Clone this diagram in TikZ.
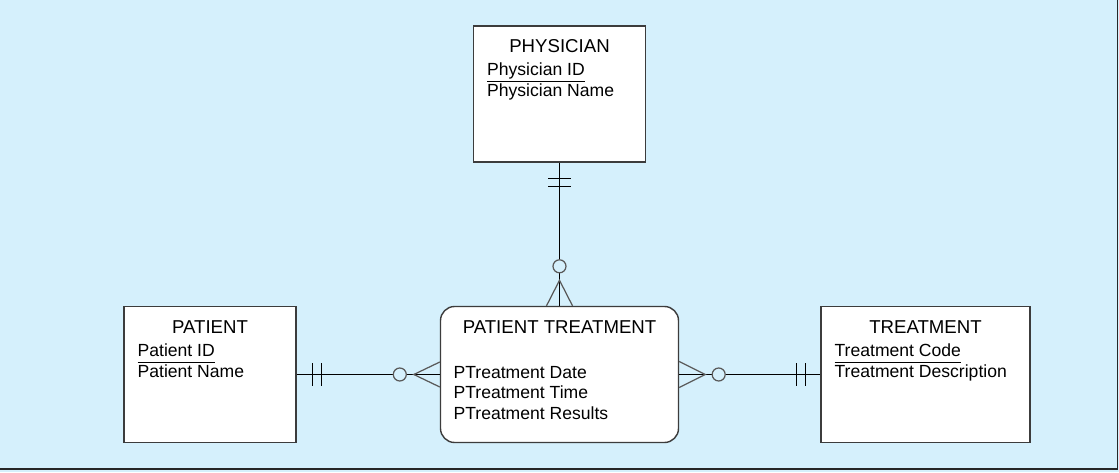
\documentclass[tikz,border=0pt]{standalone}
\usepackage{fontspec}
\setmainfont{Liberation Sans}
\definecolor{bgblue}{RGB}{213,240,252}
\definecolor{edgegray}{RGB}{60,60,60}
\newcommand{\titlefont}{\fontsize{10.6}{12}\selectfont}
\newcommand{\attrfont}{\fontsize{10.0}{11.6}\selectfont}
\newcommand{\keyattr}[1]{\underline{\vphantom{y}#1}}
\begin{document}
\begin{tikzpicture}[
  entity/.style={draw=edgegray, line width=0.8pt, fill=white, inner sep=0pt,
                 minimum width=#1, minimum height=2.72cm},
  assoc/.style={entity=#1, rounded corners=8pt},
  title/.style={font=\titlefont, anchor=base, inner sep=0pt},
  attr/.style={font=\attrfont, anchor=base west, inner sep=0pt},
  rel/.style={draw=black, line width=0.55pt},
  foot/.style={draw=black!65, line width=0.7pt},
  ring/.style={draw=black!65, line width=0.7pt, fill=bgblue}
]
  \useasboundingbox (0,0) rectangle (22.38,9.44);
  % background with shadow edge
  \fill[bgblue] (0,0) rectangle (22.38,9.44);
  \draw[black!85, line width=1.1pt] (22.35,9.44) -- (22.35,0.06) -- (0,0.06);

  % entities
  \node[entity=3.44cm] (phys)  at (11.19,7.56) {};
  \node[entity=3.44cm] (pat)   at (4.20,1.95)  {};
  \node[entity=4.18cm] (treat) at (18.51,1.95) {};
  \node[assoc=4.76cm]  (ptr)   at (11.19,1.95) {};

  % titles
  \node[title] (physT)  at ([yshift=-0.55cm]phys.north)  {PHYSICIAN};
  \node[title] (patT)   at ([yshift=-0.56cm]pat.north)   {PATIENT};
  \node[title] (treatT) at ([yshift=-0.56cm]treat.north) {TREATMENT};
  \node[title] (ptrT)   at ([yshift=-0.55cm]ptr.north)   {PATIENT TREATMENT};

  % attributes
  \node[attr] (physA1)  at ([shift={(0.28,-1.00)}]phys.north west)  {\keyattr{Physician ID}};
  \node[attr] (physA2)  at ([shift={(0.28,-1.42)}]phys.north west)  {Physician Name};
  \node[attr] (patA1)   at ([shift={(0.28,-1.01)}]pat.north west)   {\keyattr{Patient ID}};
  \node[attr] (patA2)   at ([shift={(0.28,-1.43)}]pat.north west)   {Patient Name};
  \node[attr] (treatA1) at ([shift={(0.28,-1.01)}]treat.north west) {\keyattr{Treatment Code}};
  \node[attr] (treatA2) at ([shift={(0.28,-1.43)}]treat.north west) {Treatment Description};
  \foreach \txt [count=\i] in {Date, Time, Results}
    \node[attr] (ptrA\i) at ([shift={(0.27,-1.04-0.41*\i)}]ptr.north west) {PTreatment \txt};

  % physician -- patient treatment
  \draw[rel] (phys.south) -- (ptr.north);
  \draw[rel] ([shift={(-0.23,-0.31)}]phys.south) -- ++(0.46,0);
  \draw[rel] ([shift={(-0.23,-0.48)}]phys.south) -- ++(0.46,0);
  \draw[foot] ([xshift=-0.26cm]ptr.north) -- ([yshift=0.51cm]ptr.north) -- ([xshift=0.26cm]ptr.north);
  \draw[ring] ([yshift=0.79cm]ptr.north) circle (0.13);

  % patient -- patient treatment
  \draw[rel] (pat.east) -- (ptr.west);
  \draw[rel] ([shift={(0.31,-0.22)}]pat.east) -- ++(0,0.44);
  \draw[rel] ([shift={(0.49,-0.22)}]pat.east) -- ++(0,0.44);
  \draw[foot] ([yshift=0.25cm]ptr.west) -- ([xshift=-0.52cm]ptr.west) -- ([yshift=-0.25cm]ptr.west);
  \draw[ring] ([xshift=-0.80cm]ptr.west) circle (0.13);

  % patient treatment -- treatment
  \draw[rel] (ptr.east) -- (treat.west);
  \draw[rel] ([shift={(-0.47,-0.22)}]treat.west) -- ++(0,0.44);
  \draw[rel] ([shift={(-0.30,-0.22)}]treat.west) -- ++(0,0.44);
  \draw[foot] ([yshift=0.26cm]ptr.east) -- ([xshift=0.52cm]ptr.east) -- ([yshift=-0.26cm]ptr.east);
  \draw[ring] ([xshift=0.79cm]ptr.east) circle (0.13);
\end{tikzpicture}
\end{document}
